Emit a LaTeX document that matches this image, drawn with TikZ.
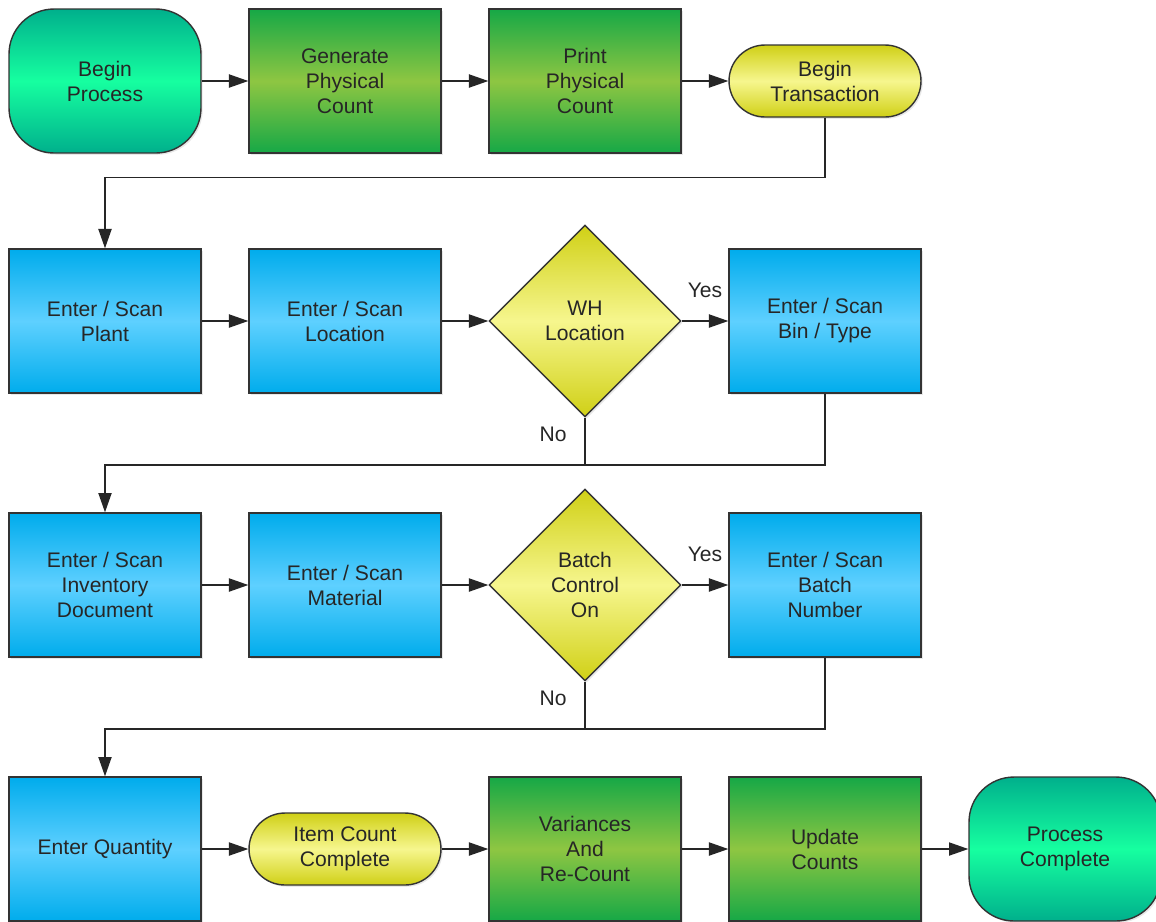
\documentclass[tikz,border=0pt]{standalone}
\usepackage{fontspec}
\setmainfont{Liberation Sans}
\usetikzlibrary{shapes.geometric, arrows.meta, positioning, calc, shadows}
\definecolor{tealdark}{RGB}{0,176,140}
\definecolor{teallight}{RGB}{22,255,160}
\definecolor{greendark}{RGB}{22,168,70}
\definecolor{greenlight}{RGB}{142,198,66}
\definecolor{yellowdark}{RGB}{208,208,22}
\definecolor{yellowlight}{RGB}{246,246,142}
\definecolor{bluedark}{RGB}{0,172,236}
\definecolor{bluelight}{RGB}{94,208,255}

\tikzset{
  base/.style={draw=black!80, line width=0.8pt, align=center, inner sep=0pt,
    font=\fontsize{12}{14.2}\selectfont, text=black!85,
    drop shadow={opacity=0.18, shadow xshift=1pt, shadow yshift=-1pt}},
  terminal/.style={base, rectangle, rounded corners=0.9cm,
    minimum width=3.84cm, minimum height=2.88cm,
    top color=tealdark, bottom color=tealdark, middle color=teallight},
  process/.style={base, rectangle, minimum width=3.84cm, minimum height=2.88cm,
    top color=greendark, bottom color=greendark, middle color=greenlight},
  entry/.style={base, rectangle, minimum width=3.84cm, minimum height=2.88cm,
    top color=bluedark, bottom color=bluedark, middle color=bluelight},
  event/.style={base, rectangle, rounded corners=0.72cm,
    minimum width=3.84cm, minimum height=1.44cm,
    top color=yellowdark, bottom color=yellowdark, middle color=yellowlight},
  decision/.style={base, diamond, aspect=1, minimum width=3.84cm, minimum height=3.84cm,
    top color=yellowdark, bottom color=yellowdark, middle color=yellowlight},
  flow/.style={line width=0.8pt, black!85, -{Triangle[length=11pt,width=7.5pt]}},
  wire/.style={line width=0.8pt, black!85},
  lbl/.style={font=\fontsize{12}{14.2}\selectfont, text=black!85}
}

\begin{document}
\begin{tikzpicture}[x=0.02cm, y=-0.02cm]
\useasboundingbox (0,0) rectangle (1156,921);

% row 1
\node[terminal] (beginproc) at (105,81) {Begin\\Process};
\node[process]  (gen)       at (345,81) {Generate\\Physical\\Count};
\node[process]  (print)     at (585,81) {Print\\Physical\\Count};
\node[event]    (begtrans)  at (825,81) {Begin\\Transaction};

% row 2
\node[entry]    (plant)     at (105,321) {Enter / Scan\\Plant};
\node[entry]    (location)  at (345,321) {Enter / Scan\\Location};
\node[decision] (whloc)     at (585,321) {WH\\Location};
\node[entry]    (bintype)   at (825,321) {Enter / Scan\\Bin / Type};

% row 3
\node[entry]    (invdoc)    at (105,585) {Enter / Scan\\Inventory\\Document};
\node[entry]    (material)  at (345,585) {Enter / Scan\\Material};
\node[decision] (batchctl)  at (585,585) {Batch\\Control\\On};
\node[entry]    (batchnum)  at (825,585) {Enter / Scan\\Batch\\Number};

% row 4
\node[entry]    (quantity)  at (105,849) {Enter Quantity};
\node[event]    (itemdone)  at (345,849) {Item Count\\Complete};
\node[process]  (variances) at (585,849) {Variances\\And\\Re-Count};
\node[process]  (update)    at (825,849) {Update\\Counts};
\node[terminal] (procdone)  at (1065,849) {Process\\Complete};

% junctions
\coordinate (whjoin)    at (585,465);
\coordinate (batchjoin) at (585,729);

% connectors
\draw[flow] (beginproc) -- (gen);
\draw[flow] (gen) -- (print);
\draw[flow] (print) -- (begtrans);
\draw[flow] (begtrans.south) -- ++(0,60) -| (plant.north);

\draw[flow] (plant) -- (location);
\draw[flow] (location) -- (whloc);
\draw[flow] (whloc) -- node[lbl, above=9.5pt] {Yes} (bintype);
\draw[wire] (whloc.south) -- (whjoin);
\draw[flow] (bintype.south) |- (whjoin) -| (invdoc.north);
\node[lbl] (whno) at ($(whloc.south)+(-32,17)$) {No};

\draw[flow] (invdoc) -- (material);
\draw[flow] (material) -- (batchctl);
\draw[flow] (batchctl) -- node[lbl, above=9.5pt] {Yes} (batchnum);
\draw[wire] (batchctl.south) -- (batchjoin);
\draw[flow] (batchnum.south) |- (batchjoin) -| (quantity.north);
\node[lbl] (batchno) at ($(batchctl.south)+(-32,17)$) {No};

\draw[flow] (quantity) -- (itemdone);
\draw[flow] (itemdone) -- (variances);
\draw[flow] (variances) -- (update);
\draw[flow] (update) -- (procdone);
\end{tikzpicture}
\end{document}
